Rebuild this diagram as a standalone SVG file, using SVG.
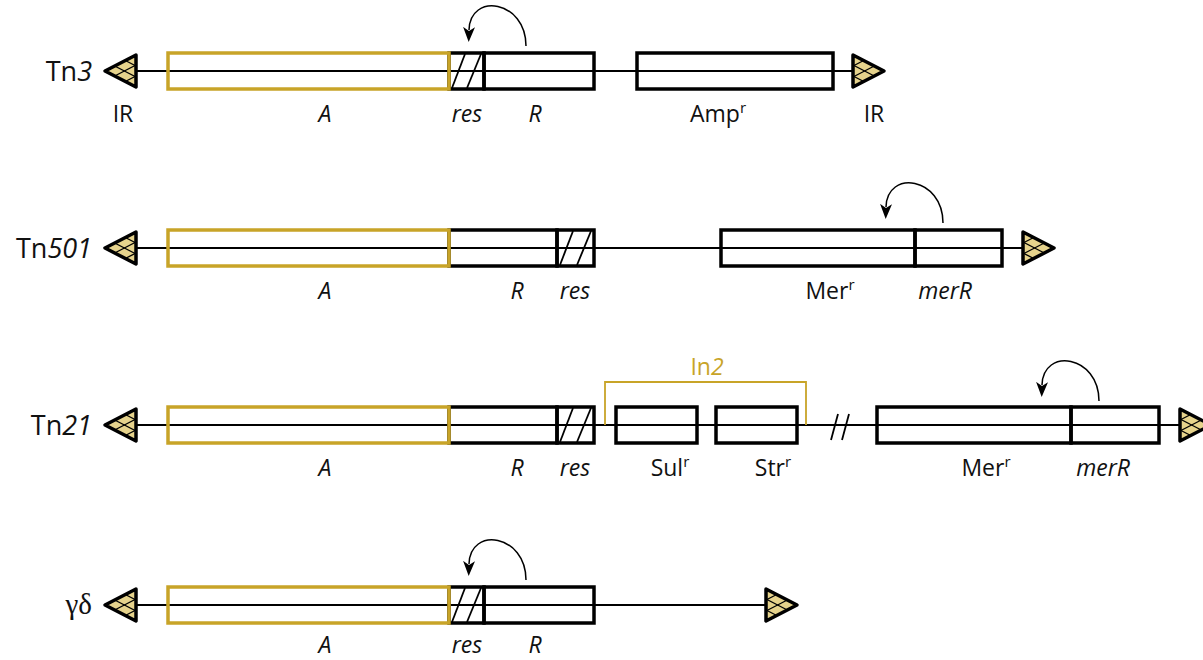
<svg xmlns="http://www.w3.org/2000/svg" width="1203" height="660" viewBox="0 0 1203 660">
<style>
.bg{fill:#fff}
.box{fill:none;stroke:#000;stroke-width:3.5}
.gold{fill:none;stroke:#c8a428;stroke-width:3.5}
.bb{stroke:#000;stroke-width:1.8;fill:none}
.hat{stroke:#000;stroke-width:1.8}
.lbl{font-family:"Open Sans","Noto Sans",sans-serif;font-size:23px;fill:#111;text-anchor:middle}
.it{font-style:italic}
.name{font-family:"Open Sans","Noto Sans",sans-serif;font-size:27px;fill:#111;text-anchor:end}
.sup{font-size:15px}
.arc{fill:none;stroke:#000;stroke-width:1.5}
</style>
<defs>
<marker id="ah" markerUnits="userSpaceOnUse" markerWidth="16" markerHeight="12" viewBox="0 0 16 12" refX="3" refY="6" orient="auto">
<path d="M0 0 L15 6 L0 12 L4 6 Z" fill="#000"/>
</marker>
<g id="ir">
<polygon points="0,-16 31,0 0,16" fill="#e6d38c"/>
<g stroke="#000" stroke-width="1.4">
<line x1="0" y1="-6" x2="21.3" y2="5"/>
<line x1="0" y1="5" x2="10.7" y2="10.5"/>
<line x1="0" y1="6" x2="21.3" y2="-5"/>
<line x1="0" y1="-5" x2="10.7" y2="-10.5"/>
</g>
<polygon points="0,-16 31,0 0,16" fill="none" stroke="#000" stroke-width="3.5" stroke-linejoin="round"/>
</g>
<path id="loop" d="M0 0 C0 -46 -56 -54 -57 -16" class="arc" marker-end="url(#ah)"/>
</defs>
<rect class="bg" width="1203" height="660"/>

<g id="connectors">
<line class="bb" x1="136" y1="71" x2="853" y2="71"/>
<line class="bb" x1="136" y1="248" x2="1023" y2="248"/>
<line class="bb" x1="136" y1="425" x2="1180" y2="425"/>
<line class="bb" x1="136" y1="605" x2="766" y2="605"/>
<use href="#loop" x="526" y="46"/>
<use href="#loop" x="943" y="223"/>
<use href="#loop" x="1099" y="401"/>
<use href="#loop" x="526" y="580"/>
</g>

<g id="tn3">
<text class="name" x="92" y="81">Tn<tspan class="it">3</tspan></text>
<use href="#ir" transform="translate(136,71) scale(-1,1)"/>
<use href="#ir" transform="translate(853,71)"/>
<rect class="box" x="449" y="53" width="35" height="36"/>
<line class="hat" x1="452" y1="88" x2="465" y2="54"/>
<line class="hat" x1="467" y1="88" x2="481" y2="54"/>
<rect class="box" x="484" y="53" width="110" height="36"/>
<rect class="box" x="637" y="53" width="196" height="36"/>
<rect class="gold" x="168" y="53" width="281" height="36"/>
<text class="lbl" x="123" y="122">IR</text>
<text class="lbl it" x="325" y="122">A</text>
<text class="lbl it" x="467" y="122">res</text>
<text class="lbl it" x="535" y="122">R</text>
<text class="lbl" x="718" y="122">Amp<tspan class="sup" dy="-9">r</tspan></text>
<text class="lbl" x="874" y="122">IR</text>
</g>

<g id="tn501">
<text class="name" x="92" y="258">Tn<tspan class="it">501</tspan></text>
<use href="#ir" transform="translate(136,248) scale(-1,1)"/>
<use href="#ir" transform="translate(1023,248)"/>
<rect class="box" x="449" y="230" width="108" height="36"/>
<rect class="box" x="557" y="230" width="37" height="36"/>
<line class="hat" x1="560" y1="265" x2="573" y2="231"/>
<line class="hat" x1="577" y1="265" x2="591" y2="231"/>
<rect class="box" x="721" y="230" width="194" height="36"/>
<rect class="box" x="915" y="230" width="87" height="36"/>
<rect class="gold" x="168" y="230" width="281" height="36"/>
<text class="lbl it" x="325" y="299">A</text>
<text class="lbl it" x="517" y="299">R</text>
<text class="lbl it" x="575" y="299">res</text>
<text class="lbl" x="830" y="299">Mer<tspan class="sup" dy="-9">r</tspan></text>
<text class="lbl it" x="945" y="299">merR</text>
</g>

<g id="tn21">
<text class="name" x="92" y="435">Tn<tspan class="it">21</tspan></text>
<use href="#ir" transform="translate(136,425) scale(-1,1)"/>
<use href="#ir" transform="translate(1180,425)"/>
<rect class="box" x="449" y="407" width="108" height="36"/>
<rect class="box" x="557" y="407" width="37" height="36"/>
<line class="hat" x1="560" y1="442" x2="573" y2="408"/>
<line class="hat" x1="577" y1="442" x2="591" y2="408"/>
<rect class="box" x="616" y="407" width="81" height="36"/>
<rect class="box" x="716" y="407" width="81" height="36"/>
<line class="hat" x1="831" y1="440" x2="838" y2="414"/>
<line class="hat" x1="842" y1="440" x2="849" y2="414"/>
<rect class="box" x="877" y="407" width="194" height="36"/>
<rect class="box" x="1071" y="407" width="88" height="36"/>
<rect class="gold" x="168" y="407" width="281" height="36"/>
<polyline points="605,425 605,382 806,382 806,425" fill="none" stroke="#c8a428" stroke-width="1.8"/>
<text class="lbl" x="707" y="375" style="fill:#c8a428">In<tspan class="it">2</tspan></text>
<text class="lbl it" x="325" y="476">A</text>
<text class="lbl it" x="517" y="476">R</text>
<text class="lbl it" x="575" y="476">res</text>
<text class="lbl" x="670" y="476">Sul<tspan class="sup" dy="-9">r</tspan></text>
<text class="lbl" x="773" y="476">Str<tspan class="sup" dy="-9">r</tspan></text>
<text class="lbl" x="986" y="476">Mer<tspan class="sup" dy="-9">r</tspan></text>
<text class="lbl it" x="1103" y="476">merR</text>
</g>

<g id="gd">
<text x="92" y="614" style="font-family:'Liberation Serif',serif;font-size:29px;fill:#111;text-anchor:end">γδ</text>
<use href="#ir" transform="translate(136,605) scale(-1,1)"/>
<use href="#ir" transform="translate(766,605)"/>
<rect class="box" x="449" y="587" width="35" height="36"/>
<line class="hat" x1="452" y1="622" x2="465" y2="588"/>
<line class="hat" x1="467" y1="622" x2="481" y2="588"/>
<rect class="box" x="484" y="587" width="110" height="36"/>
<rect class="gold" x="168" y="587" width="281" height="36"/>
<text class="lbl it" x="325" y="653">A</text>
<text class="lbl it" x="467" y="653">res</text>
<text class="lbl it" x="535" y="653">R</text>
</g>
</svg>
